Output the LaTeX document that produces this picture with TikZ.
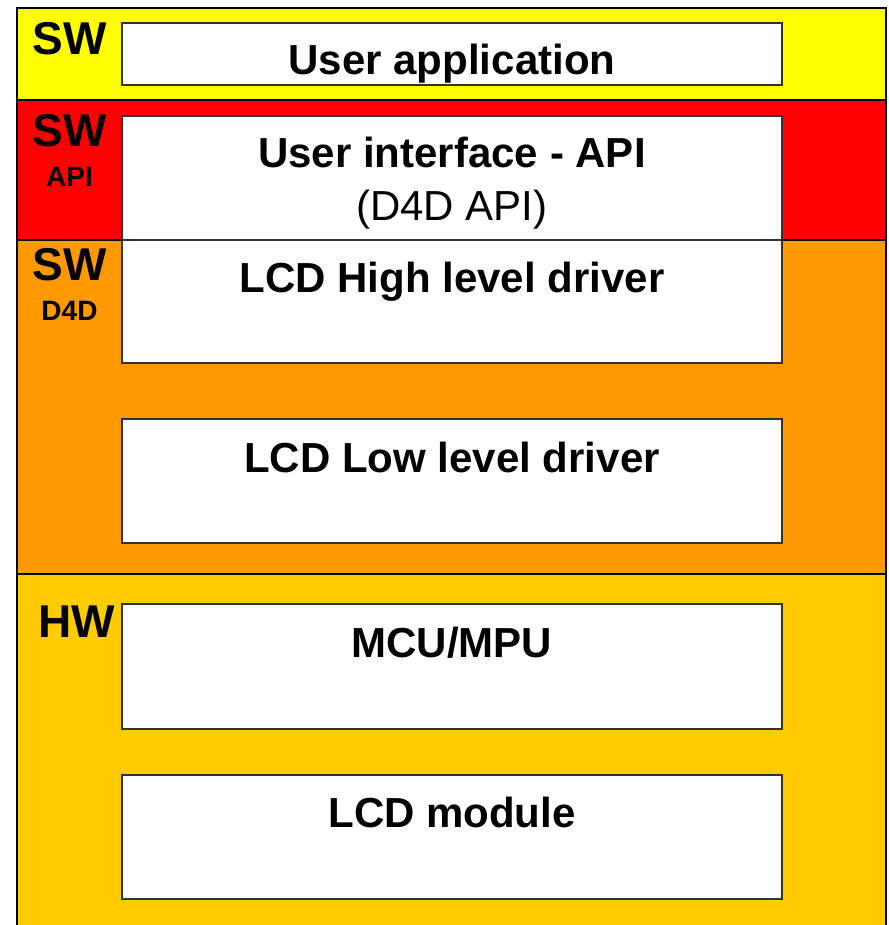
\documentclass[tikz,border=0pt]{standalone}
\usepackage{fontspec}
\setmainfont{Liberation Sans}
\definecolor{swyellow}{HTML}{FFFF00}
\definecolor{swred}{HTML}{FF0000}
\definecolor{sworange}{HTML}{FF9900}
\definecolor{hwgold}{HTML}{FFCC00}
\tikzset{
  band/.style={draw=black, line width=2pt},
  layerbox/.style={draw=black!80, line width=1.6pt, fill=white},
  title/.style={anchor=base, inner sep=0pt, font=\fontsize{42}{50}\selectfont\bfseries},
  subtitle/.style={anchor=base, inner sep=0pt, font=\fontsize{42}{50}\selectfont},
  tag/.style={anchor=base, inner sep=0pt, font=\fontsize{46}{54}\selectfont\bfseries},
  subtag/.style={anchor=base, inner sep=0pt, font=\fontsize{28}{34}\selectfont\bfseries},
}
\begin{document}
\begin{tikzpicture}[x=1pt, y=-1pt]
\useasboundingbox (0,0) rectangle (888,925);
\clip (0,0) rectangle (888,925);

% layer bands
\draw[band, fill=swyellow] (17,8) rectangle (886,100);
\draw[band, fill=swred] (17,100) rectangle (886,240);
\draw[band, fill=sworange] (17,240) rectangle (886,574);
\draw[band, fill=hwgold] (17,574) rectangle (886,940);

% layer boxes
\draw[layerbox] (122,23) rectangle (782,85);
\draw[layerbox] (122,116) rectangle (782,240);
\draw[layerbox] (122,240) rectangle (782,363);
\draw[layerbox] (122,419) rectangle (782,543);
\draw[layerbox] (122,604) rectangle (782,729);
\draw[layerbox] (122,775) rectangle (782,899);

% box titles
\node[title] (app) at (452,75) {User application};
\node[title] (api) at (452,168) {User interface - API};
\node[subtitle] (d4dapi) at (452,221) {(D4D API)};
\node[title] (high) at (452,292) {LCD High level driver};
\node[title] (low) at (452,472) {LCD Low level driver};
\node[title] (mcu) at (452,657) {MCU/MPU};
\node[title] (lcd) at (452,827) {LCD module};

% layer tags
\node[tag] (sw1) at (69.5,55) {SW};
\node[tag] (sw2) at (69.5,147) {SW};
\node[subtag] (tagapi) at (69.5,187) {API};
\node[tag] (sw3) at (69.5,280) {SW};
\node[subtag] (tagd4d) at (69.5,320) {D4D};
\node[tag] (hw) at (76.5,637) {HW};
\end{tikzpicture}
\end{document}
